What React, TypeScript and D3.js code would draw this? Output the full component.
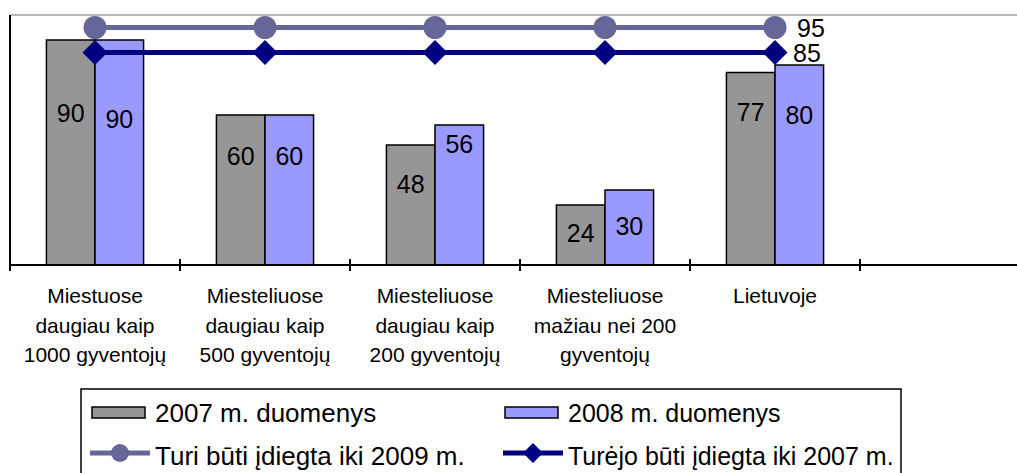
import React from 'react';
import * as d3 from 'd3';

const categories = [
  "Miestuose\ndaugiau kaip\n1000 gyventojų",
  "Miesteliuose\ndaugiau kaip\n500 gyventojų",
  "Miesteliuose\ndaugiau kaip\n200 gyventojų",
  "Miesteliuose\nmažiau nei 200\ngyventojų",
  "Lietuvoje",
  "",
];
const series = ["2007 m. duomenys", "2008 m. duomenys"];
const values2007 = [90, 60, 48, 24, 77];
const values2008 = [90, 60, 56, 30, 80];
const target2009 = [95, 95, 95, 95, 95];
const target2007 = [85, 85, 85, 85, 85];
const lineNames = ["Turi būti įdiegta iki 2009 m.", "Turėjo būti įdiegta iki 2007 m."];
// where the labels were dragged to inside the bars, in value units
const labelLevel2007 = [61, 43.6, 32.4, 13, 61.2];
const labelLevel2008 = [58.6, 43.6, 48.4, 15.6, 60.2];

const width = 1017;
const height = 473;
const plotLeft = 10;
const plotRight = 1030;
const plotTop = 15;
const plotBottom = 265;
const font = "'Liberation Sans', Arial, sans-serif";
const barColors = ["#969696", "#9999ff"];
const circleColor = "#666699";
const diamondColor = "#000080";
// legend columns: x of the key, font size
const legendCols = [{x: 91, fs: 26}, {x: 504, fs: 25}];

const Diamond = ({x, y, r, color}:{x:number, y:number, r:number, color:string}) => (
  <path d={`M${x},${y-r}L${x+r},${y}L${x},${y+r}L${x-r},${y}Z`} fill={color}/>
);

const App = () => {
  const xScale = d3.scaleBand<string>().domain(categories.map((c, i) => String(i))).range([plotLeft, plotRight]);
  const inner = d3.scaleBand<string>().domain(series).range([0, xScale.bandwidth()]).paddingOuter(0.75);
  const yScale = d3.scaleLinear().domain([0, 100]).range([plotBottom, plotTop]);
  const cx = (i:number) => (xScale(String(i)) as number) + xScale.bandwidth()/2;

  const barData = [values2007, values2008];
  const labelLevels = [labelLevel2007, labelLevel2008];

  const line = d3.line<number>().x((d, i) => cx(i)).y(d => yScale(d));
  const ticks = d3.range(categories.length + 1).map(i => plotLeft + i*xScale.bandwidth());

  return (
    <svg width={width} height={height} style={{position: "absolute", left: 0, top: 0, background: "white"}} fontFamily={font}>
      {/* plot frame top */}
      <line x1={plotLeft} x2={plotRight} y1={plotTop} y2={plotTop} stroke="#a0a0a0" strokeWidth={1.5}/>

      {barData.map((vals, s) => vals.map((v, i) => (
        <rect key={`b${s}-${i}`} x={(xScale(String(i)) as number) + (inner(series[s]) as number)} y={yScale(v)}
          width={inner.bandwidth()} height={plotBottom - yScale(v)}
          fill={barColors[s]} stroke="black" strokeWidth={1.5}/>
      )))}
      {barData.map((vals, s) => vals.map((v, i) => (
        <text key={`l${s}-${i}`} x={(xScale(String(i)) as number) + (inner(series[s]) as number) + inner.bandwidth()/2}
          y={yScale(labelLevels[s][i])} dy="0.36em" textAnchor="middle" fontSize={25} fill="black">{v}</text>
      )))}

      {/* axes */}
      <line x1={plotLeft} x2={plotLeft} y1={plotTop} y2={plotBottom} stroke="black" strokeWidth={2}/>
      <line x1={plotLeft} x2={plotRight} y1={plotBottom} y2={plotBottom} stroke="black" strokeWidth={2}/>
      {ticks.map(t => (
        <line key={t} x1={t} x2={t} y1={plotBottom - 6} y2={plotBottom + 6} stroke="black" strokeWidth={2}/>
      ))}
      {categories.map((c, i) => (
        <text key={`c${i}`} x={cx(i)} y={303} textAnchor="middle" fontSize={21} fill="black">
          {c.split("\n").map((ln, k) => <tspan key={k} x={cx(i)} dy={k === 0 ? 0 : 29.5}>{ln}</tspan>)}
        </text>
      ))}

      {/* target lines */}
      <path d={line(target2009) as string} fill="none" stroke={circleColor} strokeWidth={5}/>
      {target2009.map((v, i) => <circle key={`c${i}`} cx={cx(i)} cy={yScale(v)} r={11.5} fill={circleColor}/>)}
      <path d={line(target2007) as string} fill="none" stroke={diamondColor} strokeWidth={5}/>
      {target2007.map((v, i) => <Diamond key={`d${i}`} x={cx(i)} y={yScale(v)} r={12.5} color={diamondColor}/>)}
      <text x={cx(target2009.length-1) + 22} y={yScale(target2009[target2009.length-1])} dy="0.36em" fontSize={25}>{target2009[target2009.length-1]}</text>
      <text x={cx(target2007.length-1) + 18} y={yScale(target2007[target2007.length-1])} dy="0.36em" fontSize={25}>{target2007[target2007.length-1]}</text>

      {/* legend */}
      <rect x={81} y={389} width={820} height={100} fill="white" stroke="black" strokeWidth={1.5}/>
      {series.map((s, k) => {
        const {x: lx, fs} = legendCols[k];
        return (
          <g key={s}>
            <rect x={lx + 1} y={407} width={53} height={11} fill={barColors[k]} stroke="black" strokeWidth={1.5}/>
            <text x={lx + 64} y={413} dy="0.36em" fontSize={fs}>{s}</text>
          </g>
        );
      })}
      {lineNames.map((n, k) => {
        const {x: lx, fs} = legendCols[k];
        const ly = 453;
        const color = k === 0 ? circleColor : diamondColor;
        return (
          <g key={n}>
            <line x1={lx - 1} x2={lx + 59} y1={ly} y2={ly} stroke={color} strokeWidth={5}/>
            {k === 0 ? <circle cx={lx + 29} cy={ly} r={9} fill={color}/> : <Diamond x={lx + 29} y={ly} r={10} color={color}/>}
            <text x={lx + 64} y={ly + 3} dy="0.36em" fontSize={fs}>{n}</text>
          </g>
        );
      })}
    </svg>
  );
};

export default App;
